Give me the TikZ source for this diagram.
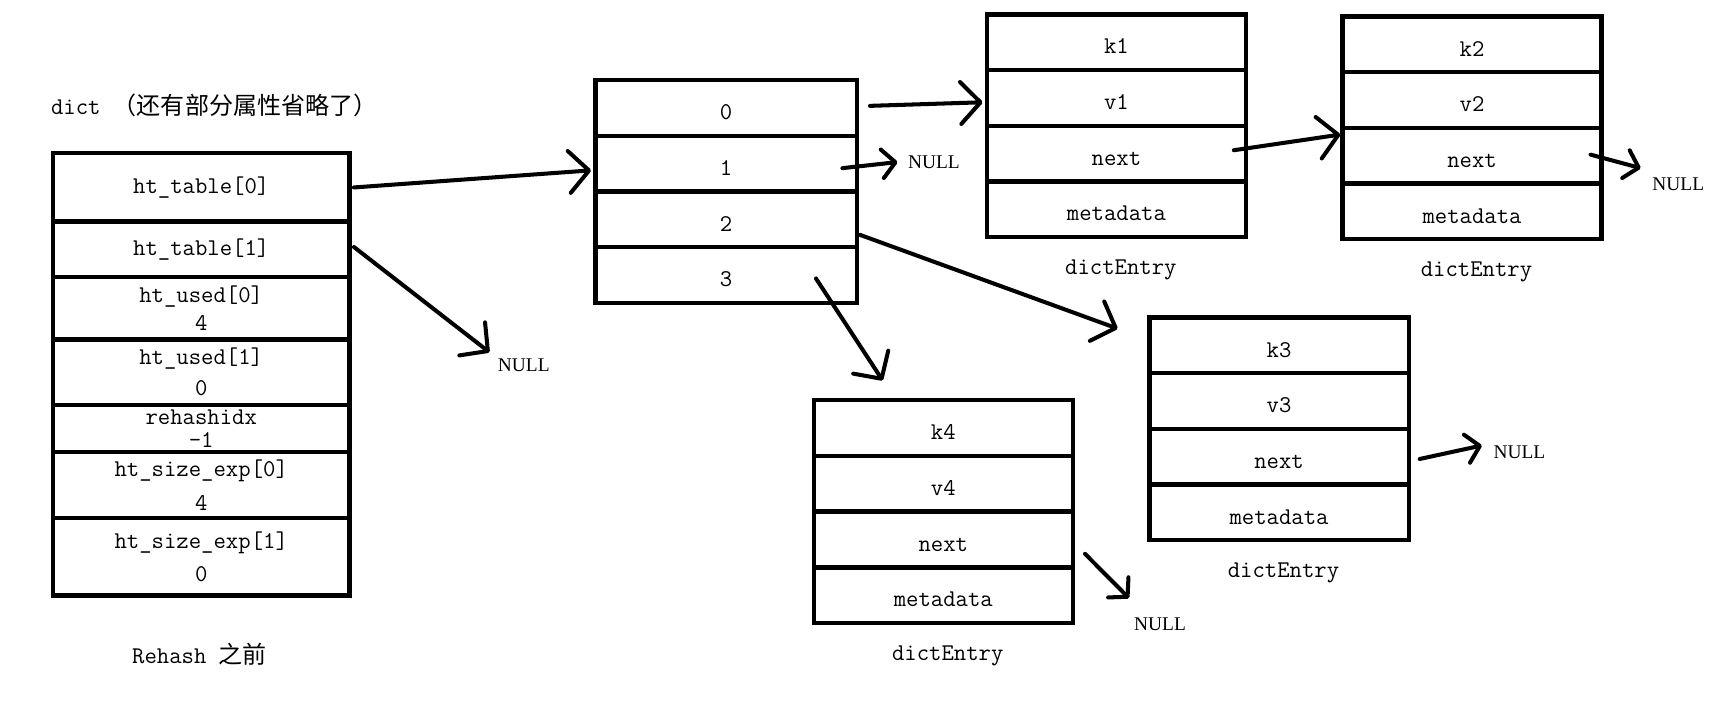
\documentclass[tikz,border=0pt]{standalone}
\usepackage{fontspec}
\newfontfamily\cjk{Noto Sans CJK SC}
\newfontfamily\nullface{Liberation Serif}
\usepackage{tikz}
\usetikzlibrary{arrows.meta,calc,positioning}
\tikzset{
  cell/.style={
    draw,
    line width=2.8pt,
    minimum height=50.5*0.025cm,
    inner sep=0pt,
    align=center,
    font=\fontsize{15.5}{18}\ttfamily
  },
  dictcell/.style={cell, minimum width=269*0.025cm},
  tablecell/.style={cell, minimum width=237*0.025cm, text height=0.56cm, text depth=0.03cm},
  entrycell/.style={cell, minimum width=235*0.025cm, text height=0.56cm, text depth=0.03cm},
  caption/.style={
    inner sep=0pt,
    font=\fontsize{15.5}{18}\ttfamily
  },
  nulltext/.style={
    inner sep=1pt,
    font=\fontsize{12.5}{14}\nullface
  },
  pointer/.style={
    line width=2.6pt,
    line cap=round,
    -{Straight Barb[length=0.45cm, width=0.95cm, round]}
  },
  nullpointer/.style={
    pointer,
    -{Straight Barb[length=0.3cm, width=0.65cm, round]}
  }
}

\begin{document}
\begin{tikzpicture}[x=0.025cm, y=-0.025cm]
  % picture measured in pixels, y pointing down
  \useasboundingbox (0,0) rectangle (1568,644);

  % dict
  \node[caption, anchor=west] (title) at (46,96) {dict\ {\cjk （还有部分属性省略了）}};
  \node[dictcell, minimum height=62*0.025cm] (d0) at (182.5,170)   {ht\_table[0]};
  \node[dictcell, minimum height=50*0.025cm] (d1) at (182.5,226)   {ht\_table[1]};
  \node[dictcell, minimum height=57*0.025cm] (d2) at (182.5,279.5) {ht\_used[0]\\4};
  \node[dictcell, minimum height=59*0.025cm] (d3) at (182.5,337.5) {ht\_used[1]\\[2pt]0};
  \node[dictcell, minimum height=43*0.025cm] (d4) at (182.5,388.5) {rehashidx\\[-3pt]-1};
  \node[dictcell, minimum height=60*0.025cm] (d5) at (182.5,440)   {ht\_size\_exp[0]\\[4pt]4};
  \node[dictcell, minimum height=70*0.025cm] (d6) at (182.5,505)   {ht\_size\_exp[1]\\[3pt]0};
  \node[caption] (before) at (181,593) {Rehash {\cjk 之前}};

  % hash table buckets
  \foreach \i in {0,...,3}
    \node[tablecell] (t\i) at (658.5,98+50.5*\i) {\i};

  % dictEntry boxes
  \foreach \id/\cx/\top in {1/1012.5/13, 2/1335/15, 3/1160/288, 4/855.5/363} {
    \node[entrycell] (e\id-k) at (\cx,\top+25.25)  {k\id};
    \node[entrycell] (e\id-v) at (\cx,\top+75.75)  {v\id};
    \node[entrycell] (e\id-n) at (\cx,\top+126.25) {next};
    \node[entrycell] (e\id-m) at (\cx,\top+176.75) {metadata};
    \node[caption] (c\id) at ($(e\id-m.south)+(4,28)$) {dictEntry};
  }

  % NULL ends
  \node[nulltext] (n0) at (475,331)  {NULL};
  \node[nulltext] (n1) at (847,147)  {NULL};
  \node[nulltext] (n2) at (1522,167) {NULL};
  \node[nulltext] (n3) at (1378,410) {NULL};
  \node[nulltext] (n4) at (1052,566) {NULL};

  % pointers
  \draw[pointer] ($(d0.east)+(2,0)$) -- ($(t1.west)+(-2,6)$);
  \draw[pointer] ($(d1.east)+(2,-2)$) -- ($(n0.north west)+(-6,-4)$);
  \draw[pointer] ($(t0.east)+(10,-2)$) -- ($(e1-v.west)+(-2,4)$);
  \draw[nullpointer] ($(t1.east)+(-15,4)$) -- ($(n1.west)+(-8,0)$);
  \draw[pointer] ($(t2.east)+(1,14)$) -- ($(e3-k.north west)+(-27,12)$);
  \draw[pointer] ($(t3.east)+(-39,3)$) -- ($(e4-k.north)+(-55,-16)$);
  \draw[pointer] ($(e1-n.east)+(-13,-3)$) -- ($(e2-n.north west)+(0,8)$);
  \draw[nullpointer] ($(e2-n.east)+(-12,-1)$) -- ($(n2.north west)+(-9,-7)$);
  \draw[nullpointer] ($(e3-n.east)+(8,2)$) -- ($(n3.west)+(-9,-6)$);
  \draw[nullpointer] ($(e4-n.east)+(9,13)$) -- ($(n4.north west)+(-3,-16)$);
\end{tikzpicture}
\end{document}
